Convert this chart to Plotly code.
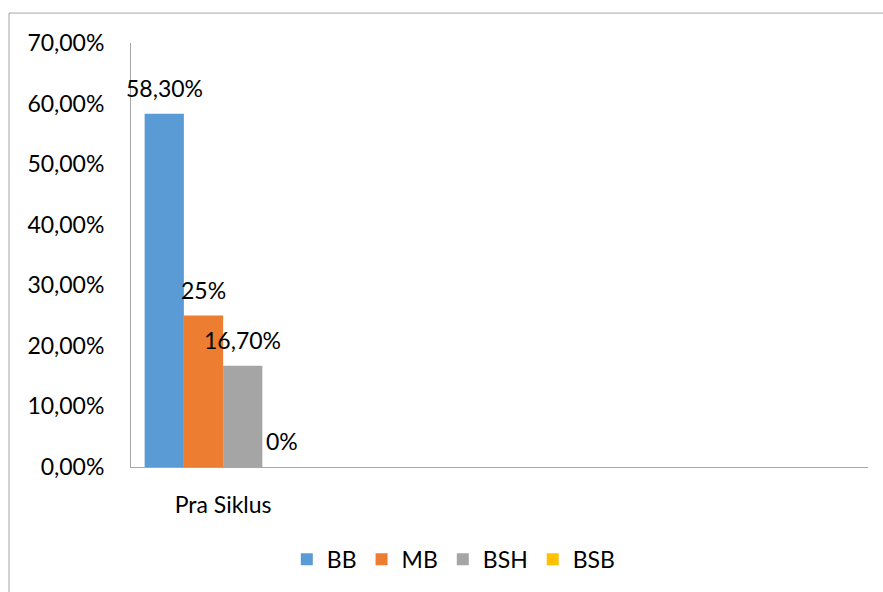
import plotly.graph_objects as go

categories = ["Pra Siklus", " ", "  ", "   "]
series = ["BB", "MB", "BSH", "BSB"]
values = [58.30, 25.0, 16.70, 0.0]
labels = ["58,30%", "25%", "16,70%", "0%"]
colors = ["#5B9BD5", "#ED7D31", "#A5A5A5", "#FFC000"]
tick_vals = [0, 10, 20, 30, 40, 50, 60, 70]
tick_text = ["0,00%", "10,00%", "20,00%", "30,00%", "40,00%", "50,00%", "60,00%", "70,00%"]

FONT = "Lato"
FS = 23
bargap = 0.148

fig = go.Figure()
for s, v, c in zip(series, values, colors):
    fig.add_trace(go.Bar(name=s, x=[categories[0]], y=[v], marker=dict(color=c, line=dict(width=0))))

n = len(series)
bw = (1 - bargap) / n
for i, (v, t) in enumerate(zip(values, labels)):
    fig.add_annotation(x=(i - (n - 1) / 2) * bw, y=v, xref="x", yref="y", text=t,
                       showarrow=False, yshift=26, yanchor="middle",
                       font=dict(family=FONT, size=FS, color="#000000"))

L, R, T, B = 131, 15, 43, 124
W, H = 883, 592
pw, ph = W - L - R, H - T - B
fig.add_shape(type="rect", xref="paper", yref="paper",
              x0=(9 - L) / pw, x1=(W + 10 - L) / pw,
              y0=-(H + 10 - (H - B)) / ph, y1=1 + (T - 13) / ph,
              line=dict(color="#A6A6A6", width=1), fillcolor="rgba(0,0,0,0)", layer="below")

fig.update_layout(
    width=W, height=H,
    margin=dict(l=L, r=R, t=T, b=B),
    paper_bgcolor="white", plot_bgcolor="white",
    barmode="group", bargap=bargap, bargroupgap=0,
    font=dict(family=FONT, size=FS, color="#000000"),
    showlegend=True,
    legend=dict(orientation="h", x=0.438, xanchor="center", y=-0.215, yanchor="middle",
                font=dict(family=FONT, size=FS), itemwidth=30, traceorder="normal"),
    xaxis=dict(type="category", categoryorder="array", categoryarray=categories,
               range=[-0.5, len(categories) - 0.5], showline=True, linecolor="#A6A6A6",
               linewidth=1, showgrid=False, ticks="", ticklabelstandoff=17,
               tickfont=dict(family=FONT, size=FS)),
    yaxis=dict(range=[0, 70], tickvals=tick_vals, ticktext=tick_text, showline=True,
               linecolor="#A6A6A6", linewidth=1, showgrid=False, zeroline=False,
               ticks="", ticklabelstandoff=21, tickfont=dict(family=FONT, size=FS)),
)

fig.write_html("out.html")
